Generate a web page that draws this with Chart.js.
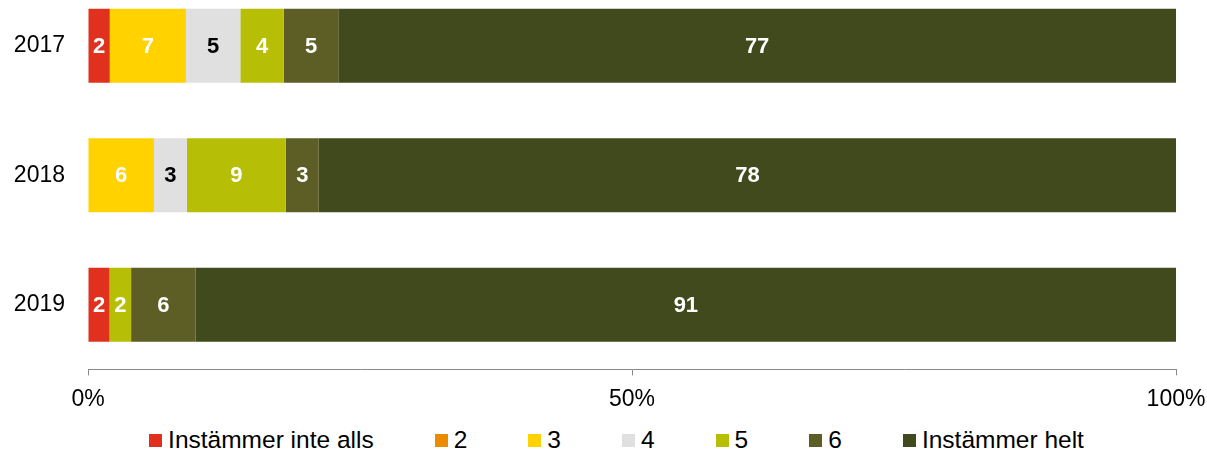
<!DOCTYPE html>
<html>
<head>
<meta charset="utf-8">
<script src="https://cdn.jsdelivr.net/npm/chart.js@4/dist/chart.umd.min.js"></script>
<style>
  html, body { margin: 0; padding: 0; background: #fff; overflow: hidden; }
  body { width: 1207px; height: 453px; position: relative; font-family: "Liberation Sans", Arial, sans-serif; }
  #wrap { position: absolute; left: 0; top: -30px; width: 1207px; height: 453px; }
  #legend { position: absolute; left: 0; top: 426px; width: 1207px; display: flex; justify-content: center;
            padding-left: 26px; box-sizing: border-box; column-gap: 61px; font-size: 24.5px; color: #000; }
  #legend .item { display: flex; align-items: center; white-space: nowrap; }
  #legend .box { width: 13px; height: 13px; margin-right: 6px; }
</style>
</head>
<body>
<div id="wrap"><canvas id="chart"></canvas></div>
<div id="legend"></div>
<script>
const years = ['2017', '2018', '2019'];
const answerLabels = ['Instämmer inte alls', '2', '3', '4', '5', '6', 'Instämmer helt'];
const answerColors = ['#E0301E', '#EB8C00', '#FFD200', '#E0E0E0', '#B6BF05', '#5D5E26', '#414A1C'];

// percent per answer, one entry per year
const v1 = [2, 0, 2];
const v2 = [0, 0, 0];
const v3 = [7, 6, 0];
const v4 = [5, 3, 0];
const v5 = [4, 9, 2];
const v6 = [5, 3, 6];
const v7 = [77, 78, 91];

const xTicks = [0, 50, 100];

const series = [v1, v2, v3, v4, v5, v6, v7];
// rounded values don't always add up to 100, so scale each year to a full bar
const totals = years.map((y, i) => series.reduce((s, arr) => s + arr[i], 0));

const fontFamily = '"Liberation Sans", Arial, sans-serif';

const valueLabels = {
    id: 'valueLabels',
    afterDatasetsDraw(chart) {
        const ctx = chart.ctx;
        ctx.save();
        ctx.font = 'bold 22px ' + fontFamily;
        ctx.textAlign = 'center';
        ctx.textBaseline = 'middle';
        chart.data.datasets.forEach((ds, di) => {
            chart.getDatasetMeta(di).data.forEach((bar, i) => {
                const v = ds.raw[i];
                if (!v) return;
                const p = bar.getCenterPoint();
                ctx.fillStyle = di === 3 ? '#000' : '#fff';
                ctx.fillText(v, p.x, p.y + 1);
            });
        });
        ctx.restore();
    }
};

const chart = new Chart(document.getElementById('chart'), {
    type: 'bar',
    data: {
        labels: years,
        datasets: series.map((arr, k) => ({
            label: answerLabels[k],
            raw: arr,
            data: arr.map((v, i) => v / totals[i] * 100),
            backgroundColor: answerColors[k],
            borderWidth: 0,
            barPercentage: 0.572,
            categoryPercentage: 1
        }))
    },
    options: {
        indexAxis: 'y',
        responsive: true,
        maintainAspectRatio: false,
        animation: false,
        layout: { padding: { left: 14, right: 31, top: 11, bottom: 0 } },
        plugins: {
            legend: { display: false },
            tooltip: { enabled: false }
        },
        scales: {
            x: {
                stacked: true,
                min: 0,
                max: 100,
                afterBuildTicks: axis => { axis.ticks = xTicks.map(v => ({ value: v })); },
                afterFit: axis => { axis.paddingLeft = 0; axis.paddingRight = 0; },
                grid: { drawOnChartArea: false, drawTicks: true, tickLength: 6, color: '#898989' },
                border: { display: true, color: '#898989', width: 1 },
                ticks: {
                    padding: 10,
                    color: '#000',
                    font: { family: fontFamily, size: 23 },
                    callback: v => v + '%'
                }
            },
            y: {
                stacked: true,
                afterFit: axis => { axis.width = 74; axis.paddingTop = 0; axis.paddingBottom = 0; },
                grid: { display: false, drawTicks: false },
                border: { display: false },
                ticks: {
                    padding: 23,
                    color: '#000',
                    font: { family: fontFamily, size: 23 }
                }
            }
        }
    },
    plugins: [valueLabels]
});

// legend row built from the chart's own legend items
const legendEl = document.getElementById('legend');
chart.options.plugins.legend.labels.generateLabels(chart).forEach(item => {
    const el = document.createElement('div');
    el.className = 'item';
    const box = document.createElement('span');
    box.className = 'box';
    box.style.background = item.fillStyle;
    const txt = document.createElement('span');
    txt.textContent = item.text;
    el.appendChild(box);
    el.appendChild(txt);
    legendEl.appendChild(el);
});
</script>
</body>
</html>
